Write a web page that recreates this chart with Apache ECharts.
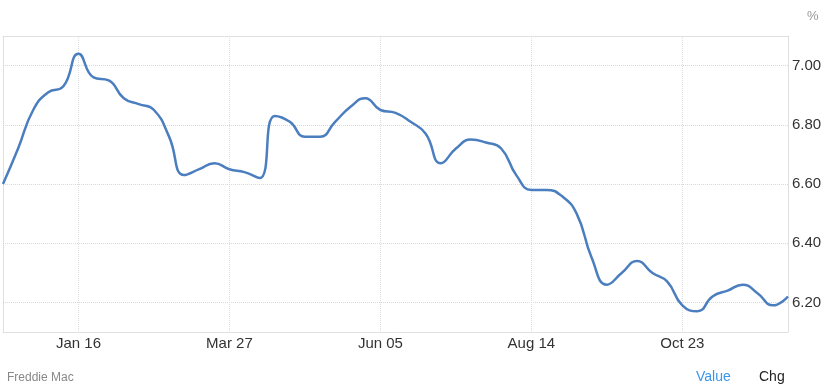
<!DOCTYPE html>
<html>
<head>
<meta charset="utf-8">
<script src="https://cdn.jsdelivr.net/npm/echarts@6/dist/echarts.min.js"></script>
<style>
html,body{margin:0;padding:0;background:#fff;}
#chart{width:830px;height:390px;}
</style>
</head>
<body>
<div id="chart"></div>
<script>
const dates = ["Dec 12","Dec 19","Dec 26","Jan 02","Jan 09","Jan 16","Jan 23","Jan 30","Feb 06","Feb 13","Feb 20","Feb 27","Mar 06","Mar 13","Mar 20","Mar 27","Apr 03","Apr 10","Apr 17","Apr 24","May 01","May 08","May 15","May 22","May 29","Jun 05","Jun 12","Jun 19","Jun 26","Jul 03","Jul 10","Jul 17","Jul 24","Jul 31","Aug 07","Aug 14","Aug 21","Aug 28","Sep 04","Sep 11","Sep 18","Sep 25","Oct 02","Oct 09","Oct 16","Oct 23","Oct 30","Nov 06","Nov 13","Nov 20","Nov 26","Dec 04","Dec 11"];
const rates = [6.60,6.72,6.85,6.91,6.93,7.04,6.96,6.95,6.89,6.87,6.85,6.76,6.63,6.65,6.67,6.65,6.64,6.62,6.83,6.81,6.76,6.76,6.81,6.86,6.89,6.85,6.84,6.81,6.77,6.67,6.72,6.75,6.74,6.72,6.63,6.58,6.58,6.56,6.50,6.35,6.26,6.30,6.34,6.30,6.27,6.19,6.17,6.22,6.24,6.26,6.23,6.19,6.22];
const labelIndices = [5,15,25,35,45];
const yTicks = [6.20,6.40,6.60,6.80,7.00];
const yMin = 6.1, yMax = 7.1;

const chart = echarts.init(document.getElementById('chart'));
const FONT = 'Liberation Sans, Arial, sans-serif';
const splitColors = [];
for (let i = 0; i <= 10; i++) {
  const v = +(yMin + i * 0.1).toFixed(2);
  splitColors.push(yTicks.some(t => Math.abs(t - v) < 1e-6) ? '#d9d9d9' : 'rgba(0,0,0,0)');
}
chart.setOption({
  animation: false,
  textStyle: {fontFamily: FONT},
  grid: {left: 3, right: 42, top: 36, bottom: 58},
  xAxis: [{
    type: 'category',
    data: dates,
    boundaryGap: false,
    axisLine: {show: true, lineStyle: {color: '#e0e0e0', width: 1}},
    axisTick: {show: false},
    axisLabel: {
      interval: (i) => labelIndices.includes(i),
      color: '#333', fontSize: 15, margin: 4, fontFamily: FONT
    },
    splitLine: {
      show: true,
      interval: (i) => labelIndices.includes(i),
      lineStyle: {color: '#dcdcdc', type: 'dotted', width: 1}
    }
  }, {
    type: 'category',
    data: dates,
    position: 'top',
    boundaryGap: false,
    axisLine: {show: true, lineStyle: {color: '#d9d9d9', type: 'dotted', width: 1}},
    axisTick: {show: false},
    axisLabel: {show: false},
    splitLine: {show: false}
  }],
  yAxis: [{
    type: 'value',
    position: 'right',
    min: yMin, max: yMax, interval: 0.1,
    axisLine: {show: true, lineStyle: {color: '#e0e0e0', width: 1}},
    axisTick: {show: false},
    axisLabel: {
      color: '#333', fontSize: 15, margin: 4, fontFamily: FONT,
      formatter: (v) => yTicks.some(t => Math.abs(t - v) < 1e-6) ? v.toFixed(2) : ''
    },
    splitLine: {show: true, lineStyle: {color: splitColors, type: 'dotted', width: 1}}
  }, {
    type: 'value',
    position: 'left',
    min: yMin, max: yMax, interval: 0.1,
    axisLine: {show: true, lineStyle: {color: '#d9d9d9', type: 'dotted', width: 1}},
    axisTick: {show: false},
    axisLabel: {show: false},
    splitLine: {show: false}
  }],
  graphic: [
    {type: 'text', left: 807, top: 10, style: {text: '%', fill: '#999', font: '13px ' + FONT}},
    {type: 'text', left: 7, top: 372, style: {text: 'Freddie Mac', fill: '#888', font: '12px ' + FONT}},
    {type: 'text', left: 696, top: 370, style: {text: 'Value', fill: '#3a96ea', font: '14px ' + FONT}},
    {type: 'text', left: 759, top: 370, style: {text: 'Chg', fill: '#222', font: '14px ' + FONT}}
  ],
  series: [{
    type: 'line',
    data: rates,
    smooth: 0.5,
    showSymbol: false,
    lineStyle: {color: '#4a7ebf', width: 2.5},
    itemStyle: {color: '#4a7ebf'}
  }]
});
</script>
</body>
</html>
